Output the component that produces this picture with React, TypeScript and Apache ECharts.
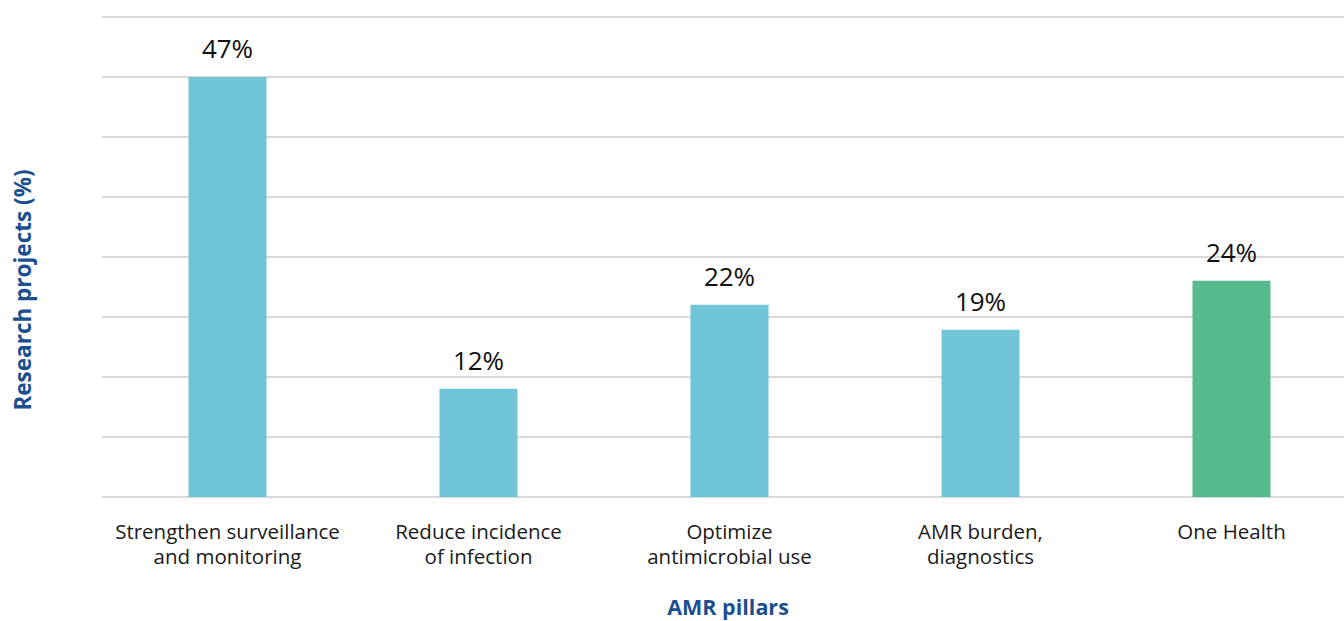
import React, { useEffect, useRef } from "react";
import * as echarts from "echarts";

const categories = [
  "Strengthen surveillance\nand monitoring",
  "Reduce incidence\nof infection",
  "Optimize\nantimicrobial use",
  "AMR burden,\ndiagnostics",
  "One Health",
];
const values = [47, 12.1, 21.5, 18.7, 24.2];
const barColors = ["#70C6D8", "#70C6D8", "#70C6D8", "#70C6D8", "#57B98E"];
const xAxisTitle = "AMR pillars";
const yAxisTitle = "Research projects (%)";

const FONT = "'Open Sans', 'Noto Sans', sans-serif";

export default function App() {
  const ref = useRef<HTMLDivElement>(null);
  useEffect(() => {
    if (!ref.current) return;
    const chart = echarts.init(ref.current, null, { renderer: "svg" });
    const yMax = 53.7;
    chart.setOption({
      animation: false,
      textStyle: { fontFamily: FONT },
      grid: { left: 102, top: 17, width: 1255, height: 480, outerBoundsMode: "none", containLabel: false },
      xAxis: {
        type: "category",
        data: categories,
        axisLine: { show: false },
        axisTick: { show: false },
        axisLabel: {
          fontSize: 20.5,
          color: "#1a1a1a",
          lineHeight: 25.5,
          margin: 21,
          interval: 0,
          fontFamily: FONT,
        },
      },
      yAxis: {
        type: "value",
        min: 0,
        max: yMax,
        interval: yMax / 8,
        axisLabel: { show: false },
        axisLine: { show: false },
        axisTick: { show: false },
        splitLine: { lineStyle: { color: "#d9d9d9", width: 2 } },
      },
      series: [
        {
          type: "bar",
          barWidth: 78,
          data: values.map((v, i) => ({ value: v, itemStyle: { color: barColors[i] } })),
          label: {
            show: true,
            position: "top",
            distance: 16,
            fontSize: 26,
            color: "#111",
            fontFamily: FONT,
            formatter: (p: any) => Math.round(p.value) + "%",
          },
        },
      ],
      graphic: [
        {
          type: "text",
          x: 22,
          y: 290,
          rotation: Math.PI / 2,
          style: {
            text: yAxisTitle,
            fontSize: 22.5,
            fontWeight: "bold",
            fill: "#1B4F8F",
            fontFamily: FONT,
            textAlign: "center",
            textVerticalAlign: "middle",
          },
        },
        {
          type: "text",
          x: 728,
          y: 606,
          style: {
            text: xAxisTitle,
            fontSize: 21.5,
            fontWeight: "bold",
            fill: "#1B4F8F",
            fontFamily: FONT,
            textAlign: "center",
            textVerticalAlign: "middle",
          },
        },
      ],
    });
    return () => chart.dispose();
  }, []);
  return (
    <div
      ref={ref}
      style={{ position: "absolute", left: 0, top: 0, width: 1344, height: 621 }}
    />
  );
}
